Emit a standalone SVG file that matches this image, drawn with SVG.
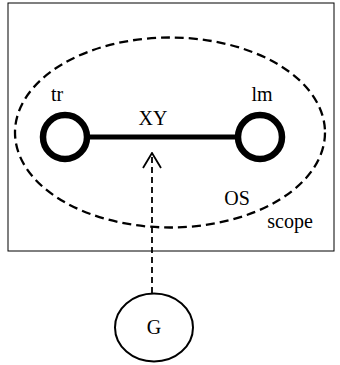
<svg xmlns="http://www.w3.org/2000/svg" width="340" height="365" viewBox="0 0 340 365">
<defs>
<style>
text{font-family:"Liberation Serif","Times New Roman",serif;font-size:20px;fill:#000;text-anchor:middle}
.node{fill:#fff;stroke:#000;stroke-width:6.5}
</style>
<marker id="open" viewBox="0 0 20 20" refX="19" refY="10" markerWidth="20" markerHeight="20" markerUnits="userSpaceOnUse" orient="auto">
<path d="M4,1 L19,10 L4,19" fill="none" stroke="#000" stroke-width="1.8"/>
</marker>
</defs>
<rect width="340" height="365" fill="#fff"/>
<g id="frame"><rect x="8" y="3" width="326" height="248" fill="none" stroke="#000" stroke-width="1"/></g>
<g id="scope"><ellipse cx="170" cy="132.5" rx="155" ry="95" fill="none" stroke="#000" stroke-width="2.3" stroke-dasharray="9,5"/>
<text x="290" y="228">scope</text></g>
<g id="connectors">
<line x1="90" y1="137" x2="237" y2="137" stroke="#000" stroke-width="5"/>
<line x1="152" y1="293" x2="152" y2="153" stroke="#000" stroke-width="1.8" stroke-dasharray="6,4" marker-end="url(#open)"/>
</g>
<g id="tr"><circle class="node" cx="65" cy="137" r="22"/><text x="57" y="101">tr</text></g>
<g id="lm"><circle class="node" cx="260" cy="137" r="22"/><text x="262" y="101">lm</text></g>
<g id="XY"><text x="153" y="125">XY</text></g>
<g id="OS"><text x="237" y="205">OS</text></g>
<g id="G"><ellipse cx="154" cy="327.5" rx="39" ry="34" fill="#fff" stroke="#000" stroke-width="2"/><text x="154" y="334">G</text></g>
</svg>
